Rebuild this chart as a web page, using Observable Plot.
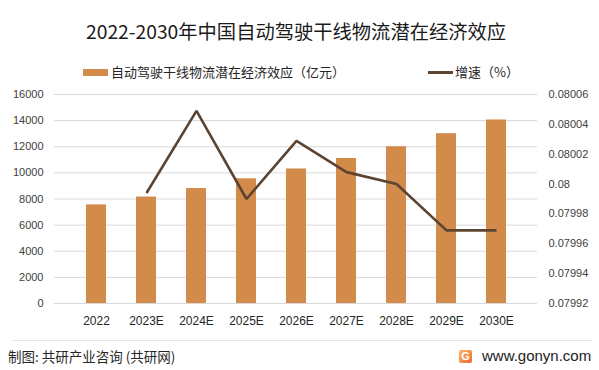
<!DOCTYPE html>
<html>
<head>
<meta charset="utf-8">
<script src="https://cdn.jsdelivr.net/npm/d3@7"></script>
<script src="https://cdn.jsdelivr.net/npm/@observablehq/plot@0.6"></script>
<style>
  html, body { margin: 0; padding: 0; background: #fff; }
  #root { position: relative; width: 599px; height: 370px; overflow: hidden; font-family: "Noto Sans CJK SC", "Liberation Sans", sans-serif; }
  #title { position: absolute; left: 86px; top: 17px; font-size: 19.3px; color: #1a1a1a; white-space: nowrap; line-height: 28px; }
  .leg { position: absolute; top: 63px; font-size: 13px; color: #262626; white-space: nowrap; line-height: 18px; display: flex; align-items: center; }
  .sw-bar { width: 25px; height: 7px; background: #D38B4C; margin-right: 3px; }
  .sw-line { width: 25px; height: 3px; background: #5C4431; margin-right: 2px; }
  #chart { position: absolute; left: 0; top: 80px; }
  #sep { position: absolute; left: 12px; width: 580px; top: 340px; height: 1px; background: #e6e6e6; }
  #src { position: absolute; left: 8px; top: 347px; font-size: 13.5px; color: #262626; line-height: 18px; white-space: nowrap; }
  #site { position: absolute; left: 459px; top: 347px; font-size: 15px; color: #222; line-height: 18px; white-space: nowrap; display: flex; align-items: center; font-family: "Liberation Sans", sans-serif; }
  #logo { width: 13px; height: 13px; border-radius: 2px; background: linear-gradient(135deg, #f8b86a, #ee6a33); color: #fff; font-size: 11px; font-weight: bold; line-height: 13px; text-align: center; margin-right: 10px; }
</style>
</head>
<body>
<div id="root">
  <div id="title">2022-2030年中国自动驾驶干线物流潜在经济效应</div>
  <div class="leg" style="left:83px"><div class="sw-bar"></div>自动驾驶干线物流潜在经济效应（亿元）</div>
  <div class="leg" style="left:428px"><div class="sw-line"></div>增速（%）</div>
  <div id="chart"></div>
  <div id="sep"></div>
  <div id="src">制图: 共研产业咨询 (共研网)</div>
  <div id="site"><div id="logo">G</div>www.gonyn.com</div>
</div>
<script>
const categories = ["2022", "2023E", "2024E", "2025E", "2026E", "2027E", "2028E", "2029E", "2030E"];
const values = [7550, 8150, 8800, 9550, 10300, 11100, 12000, 13000, 14050];
const growth = [null, 0.079994, 0.080049, 0.079990, 0.080029, 0.080008, 0.080000, 0.079969, 0.079969];
const leftTicks = [0, 2000, 4000, 6000, 8000, 10000, 12000, 14000, 16000];
const rightTicks = [0.07992, 0.07994, 0.07996, 0.07998, 0.08, 0.08002, 0.08004, 0.08006];

const lMax = 16000, rMin = 0.07992, rMax = 0.08006;
const toLeft = v => (v - rMin) / (rMax - rMin) * lMax;
const fromLeft = d => +((d / lMax) * (rMax - rMin) + rMin).toFixed(5);

const barData = categories.map((c, i) => ({ cat: c, value: values[i] }));
const lineData = categories.map((c, i) => ({ cat: c, g: growth[i] })).filter(d => d.g != null);

const chart = Plot.plot({
  width: 599,
  height: 250,
  marginTop: 14,
  marginBottom: 27,
  marginLeft: 54,
  marginRight: 62,
  style: { fontFamily: "'Liberation Sans', sans-serif", fontSize: "11px", color: "#404040", background: "transparent" },
  x: { domain: categories, padding: 0.6, label: null },
  y: { domain: [0, lMax], label: null },
  marks: [
    Plot.gridY(leftTicks, { stroke: "#d9d9d9", strokeOpacity: 1 }),
    Plot.axisY(leftTicks, { anchor: "left", tickSize: 0, tickPadding: 11, label: null, fontSize: 11, tickFormat: d => String(d) }),
    Plot.axisY(rightTicks.map(toLeft), { anchor: "right", tickSize: 0, tickPadding: 11, label: null, fontSize: 11, tickFormat: d => String(fromLeft(d)) }),
    Plot.barY(barData, { x: "cat", y: "value", fill: "#D38B4C" }),
    Plot.line(lineData, { x: "cat", y: d => toLeft(d.g), stroke: "#5C4431", strokeWidth: 2.6, strokeLinejoin: "miter", strokeLinecap: "butt" }),
    Plot.axisX({ tickSize: 0, tickPadding: 13, label: null, fontSize: 12, fill: "#262626" })
  ]
});
document.getElementById("chart").appendChild(chart);
</script>
</body>
</html>
